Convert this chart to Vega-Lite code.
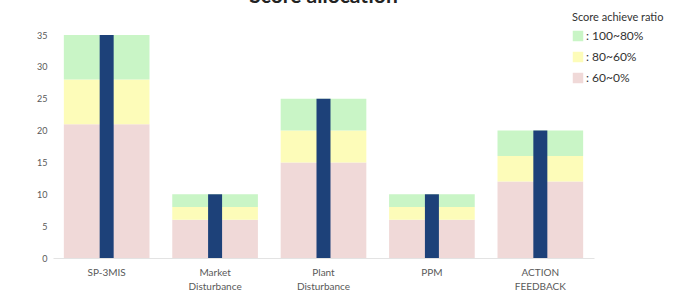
{
  "$schema": "https://vega.github.io/schema/vega-lite/v6.json",
  "autosize": "none",
  "width": 541,
  "height": 223,
  "padding": {"left": 53, "top": 35, "right": 99, "bottom": 34},
  "background": "white",
  "config": {"font": "Lato", "view": {"stroke": null}},
  "title": {"text": "Score allocation", "fontSize": 21, "fontWeight": "bold", "color": "#222222", "anchor": "middle", "baseline": "alphabetic", "offset": -12, "font": "Lato"},
  "datasets": {
    "segments": [
      {"category": "SP-3MIS", "ratio": ": 60~0%", "rank": 1, "value": 21},
      {"category": "SP-3MIS", "ratio": ": 80~60%", "rank": 2, "value": 7},
      {"category": "SP-3MIS", "ratio": ": 100~80%", "rank": 3, "value": 7},
      {"category": "Market Disturbance", "ratio": ": 60~0%", "rank": 1, "value": 6},
      {"category": "Market Disturbance", "ratio": ": 80~60%", "rank": 2, "value": 2},
      {"category": "Market Disturbance", "ratio": ": 100~80%", "rank": 3, "value": 2},
      {"category": "Plant Disturbance", "ratio": ": 60~0%", "rank": 1, "value": 15},
      {"category": "Plant Disturbance", "ratio": ": 80~60%", "rank": 2, "value": 5},
      {"category": "Plant Disturbance", "ratio": ": 100~80%", "rank": 3, "value": 5},
      {"category": "PPM", "ratio": ": 60~0%", "rank": 1, "value": 6},
      {"category": "PPM", "ratio": ": 80~60%", "rank": 2, "value": 2},
      {"category": "PPM", "ratio": ": 100~80%", "rank": 3, "value": 2},
      {"category": "ACTION FEEDBACK", "ratio": ": 60~0%", "rank": 1, "value": 12},
      {"category": "ACTION FEEDBACK", "ratio": ": 80~60%", "rank": 2, "value": 4},
      {"category": "ACTION FEEDBACK", "ratio": ": 100~80%", "rank": 3, "value": 4}
    ],
    "totals": [
      {"category": "SP-3MIS", "total": 35},
      {"category": "Market Disturbance", "total": 10},
      {"category": "Plant Disturbance", "total": 25},
      {"category": "PPM", "total": 10},
      {"category": "ACTION FEEDBACK", "total": 20}
    ]
  },
  "layer": [
    {
      "data": {"name": "segments"},
      "mark": {"type": "bar"},
      "encoding": {
        "x": {
          "field": "category", "type": "nominal", "sort": null,
          "scale": {"paddingInner": 0.21, "paddingOuter": 0.1},
          "axis": {
            "title": null, "labelAngle": 0, "ticks": false, "domain": true, "domainColor": "#e3e3e3",
            "labelColor": "#595959", "labelFontSize": 10, "labelPadding": 9,
            "labelExpr": "split(datum.label, ' ')", "labelLineHeight": 14
          }
        },
        "y": {
          "field": "value", "type": "quantitative", "stack": "zero",
          "scale": {"domain": [0, 35], "nice": false},
          "axis": {
            "title": null, "values": [0, 5, 10, 15, 20, 25, 30, 35], "grid": false, "domain": false, "ticks": false,
            "labelColor": "#595959", "labelFontSize": 9, "labelPadding": 6, "labelOverlap": false
          }
        },
        "order": {"field": "rank", "type": "quantitative"},
        "color": {
          "field": "ratio", "type": "nominal",
          "scale": {"domain": [": 100~80%", ": 80~60%", ": 60~0%"], "range": ["#c9f5c6", "#fdfcb9", "#f0d9d8"]},
          "legend": {
            "title": "Score achieve ratio", "orient": "none", "legendX": 519, "legendY": -23,
            "titleFontSize": 11, "titleFontWeight": "normal", "titleColor": "#333333", "titlePadding": 7,
            "labelFontSize": 12, "labelColor": "#333333", "symbolType": "square", "symbolSize": 110,
            "symbolStrokeWidth": 0, "rowPadding": 9, "labelOffset": 2
          }
        }
      }
    },
    {
      "data": {"name": "totals"},
      "mark": {"type": "bar", "width": 14, "color": "#1d4179"},
      "encoding": {
        "x": {"field": "category", "type": "nominal", "sort": null},
        "y": {
          "field": "total", "type": "quantitative",
          "scale": {"domain": [0, 35], "nice": false},
          "axis": {
            "title": null, "values": [0, 5, 10, 15, 20, 25, 30, 35], "grid": false, "domain": false, "ticks": false,
            "labelColor": "#595959", "labelFontSize": 9, "labelPadding": 6, "labelOverlap": false
          }
        }
      }
    }
  ]
}
